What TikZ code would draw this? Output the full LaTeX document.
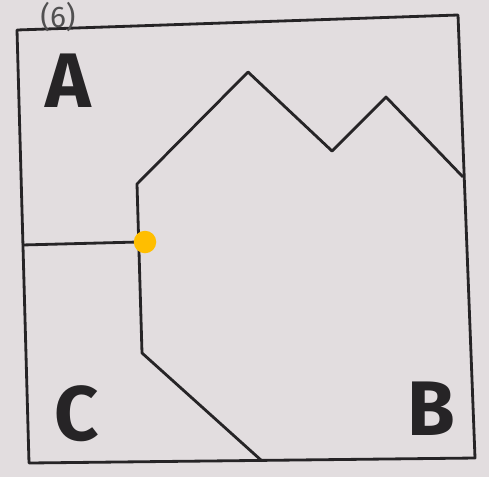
\documentclass[tikz,border=0pt]{standalone}
\usepackage{fontspec}
\setmainfont{Fira Sans}
\usetikzlibrary{positioning}
\definecolor{paper}{RGB}{226,221,223}
\definecolor{pencil}{RGB}{38,36,38}
\definecolor{marker}{RGB}{255,190,0}

\begin{document}
\begin{tikzpicture}[
  x=0.02cm, y=-0.02cm,
  border/.style={draw=pencil, line width=1.6pt, line join=round},
  region/.style={text=pencil, font=\fontsize{44}{44}\selectfont\bfseries, inner sep=0pt, anchor=base},
  note/.style={text=pencil!80, font=\fontsize{17}{17}\selectfont, inner sep=0pt, anchor=north},
  spot/.style={circle, fill=marker, minimum size=0.45cm, inner sep=0pt}
]
\fill[paper] (0,0) rectangle (489,477);
\useasboundingbox (0,0) rectangle (489,477);

% frame corners
\coordinate (tl) at (17,30);
\coordinate (tr) at (458,15);
\coordinate (br) at (475,458);
\coordinate (bl) at (29,463);

% boundary of the big region
\coordinate (foot) at (262,461);
\coordinate (knee) at (142,353);
\coordinate (hip) at (137,184);
\coordinate (peakone) at (248,72);
\coordinate (dip) at (332,151);
\coordinate (peaktwo) at (386,97);
\coordinate (edge) at (463,177);

% split between A and C
\coordinate (split) at (22,245);
\coordinate (meet) at (138,242);

\draw[border] (tl) -- (tr) -- (br) -- (bl) -- cycle;
\draw[border] (foot) -- (knee) -- (hip) -- (peakone) -- (dip) -- (peaktwo) -- (edge);
\draw[border] (split) -- (meet);

\node[spot] (dot) at (145,242) {};

\node[region] (labA) at (68,107) {A};
\node[region] (labC) at (77,440) {C};
\node[region] (labB) at (431,435) {B};
\node[note] (num) at (58,2) {(6)};
\end{tikzpicture}
\end{document}
